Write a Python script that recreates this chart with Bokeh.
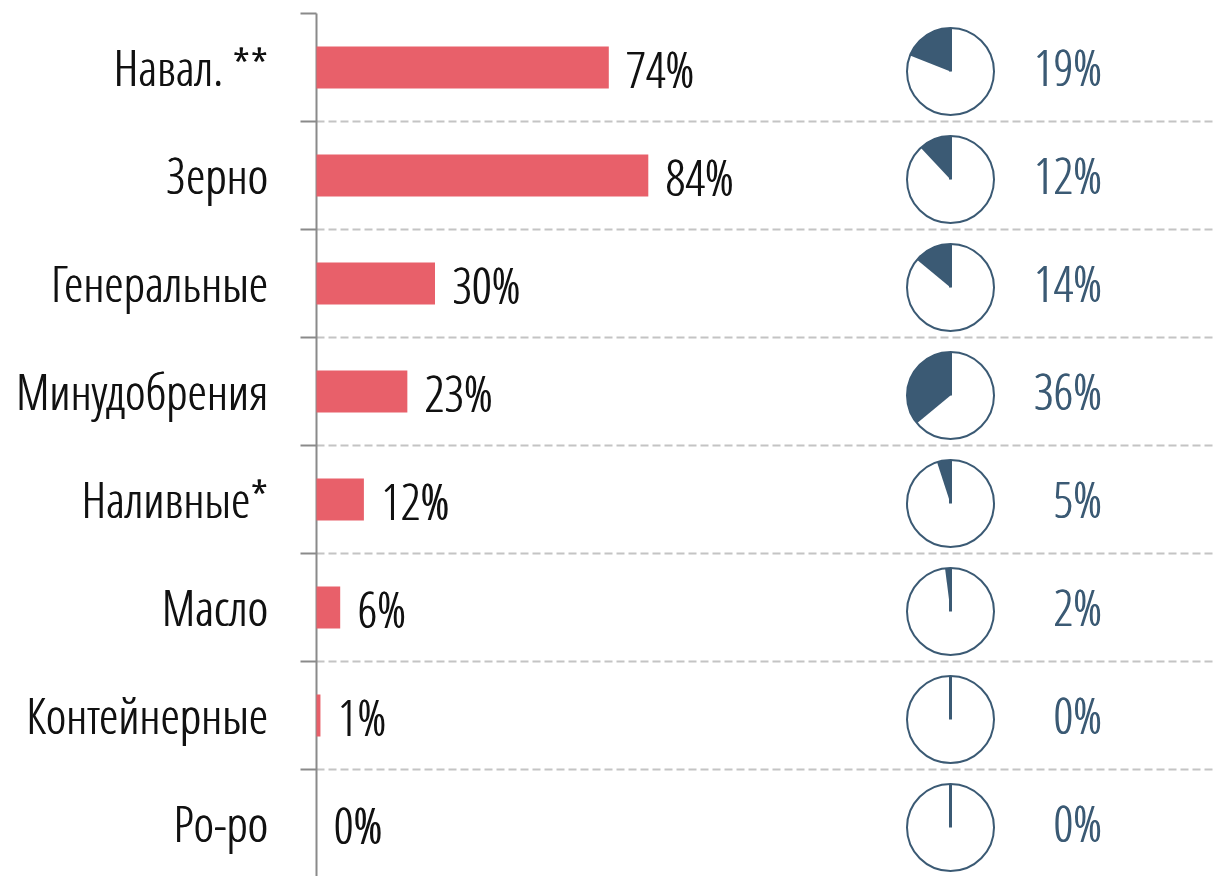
import math
from bokeh.plotting import figure
from bokeh.models import Range1d, ColumnDataSource
from bokeh.core.properties import value
from bokeh.embed import file_html
from bokeh.resources import INLINE

categories = ["Навал. **", "Зерно", "Генеральные", "Минудобрения", "Наливные*", "Масло", "Контейнерные", "Ро-ро"]
bar_values = [74, 84, 30, 23, 12, 6, 1, 0]
pie_values = [19, 12, 14, 36, 5, 2, 0, 0]

FONT = "Open Sans Condensed Light"
FSIZE = "49px"
BAR_COLOR = "#E8606A"
PIE_COLOR = "#3B5A74"

W, H = 1214, 876
S = 3.95          # px per percent
AX = 316          # canvas x of the axis
ROW = 108         # px per row
TOP = 13          # canvas y of the top boundary

x_start = -AX / S
x_end = (W - AX) / S
y_top = -0.5 - TOP / ROW
y_bot = y_top + H / ROW

p = figure(width=W, height=H, output_backend="svg", toolbar_location=None,
           x_range=Range1d(x_start, x_end), y_range=Range1d(y_bot, y_top),
           min_border=0, outline_line_color=None)
p.axis.visible = False
p.grid.visible = False

n = len(categories)
idx = list(range(n))
src = ColumnDataSource(dict(
    y=idx, cat=categories, bar=bar_values, pie=pie_values,
    bar_lbl=[f"{v}%" for v in bar_values],
    pie_lbl=[f"{v}%" for v in pie_values],
))

# separators
bounds_inner = [i + 0.5 for i in range(n - 1)]
p.segment(x0=[0] * len(bounds_inner), x1=[x_end] * len(bounds_inner),
          y0=bounds_inner, y1=bounds_inner, line_color="#C4C4C4",
          line_width=2, line_dash="8 4")

# axis line and boundary ticks
p.segment(x0=[0], x1=[0], y0=[-0.5], y1=[y_bot], line_color="#8A8A8A", line_width=2)
all_bounds = [i - 0.5 for i in range(n + 1)]
p.ray(x=[0] * len(all_bounds), y=all_bounds, length=16, length_units="screen",
      angle=math.pi, line_color="#8A8A8A", line_width=2)

# bars
p.hbar(y="y", left=0, right="bar", height=42 / ROW, source=src,
       fill_color=BAR_COLOR, line_color=None)

# texts (drawn twice with a sub-pixel shift to give a slightly heavier stroke)
for dx in (0, 0.8):
    p.text(x="bar", y="y", text="bar_lbl", source=src, x_offset=17 + dx, y_offset=1,
           text_align="left", text_baseline="middle", text_font=value(FONT),
           text_font_size=FSIZE, text_color="#111111")
    p.text(x=0, y="y", text="cat", source=src, x_offset=-48 - 0.8 + dx, y_offset=-1,
           text_align="right", text_baseline="middle", text_font=value(FONT),
           text_font_size=FSIZE, text_color="#111111")

# pies
pie_x = (950 - AX) / S
pie_dy = 4 / ROW
py = [i + pie_dy for i in idx]
p.circle(x=[pie_x] * n, y=py, radius=43.5, radius_units="screen",
         fill_color="white", line_color=PIE_COLOR, line_width=2)
wy = [py[i] for i in idx if pie_values[i] > 0]
wend = [math.pi / 2 + v / 100 * 2 * math.pi for v in pie_values if v > 0]
p.wedge(x=[pie_x] * len(wy), y=wy, radius=43.5, radius_units="screen",
        start_angle=[math.pi / 2] * len(wy), end_angle=wend, direction="anticlock",
        fill_color=PIE_COLOR, line_color=None)
p.ray(x=[pie_x] * n, y=py, length=43.5, length_units="screen", angle=math.pi / 2,
      line_color=PIE_COLOR, line_width=3)

lbl_x = (1102 - AX) / S
for dx in (0, 0.8):
    p.text(x=lbl_x, y="y", text="pie_lbl", source=src, x_offset=-0.8 + dx, y_offset=-1,
           text_align="right", text_baseline="middle", text_font=value(FONT),
           text_font_size=FSIZE, text_color=PIE_COLOR)

open("out.html", "w").write(file_html(p, INLINE))
